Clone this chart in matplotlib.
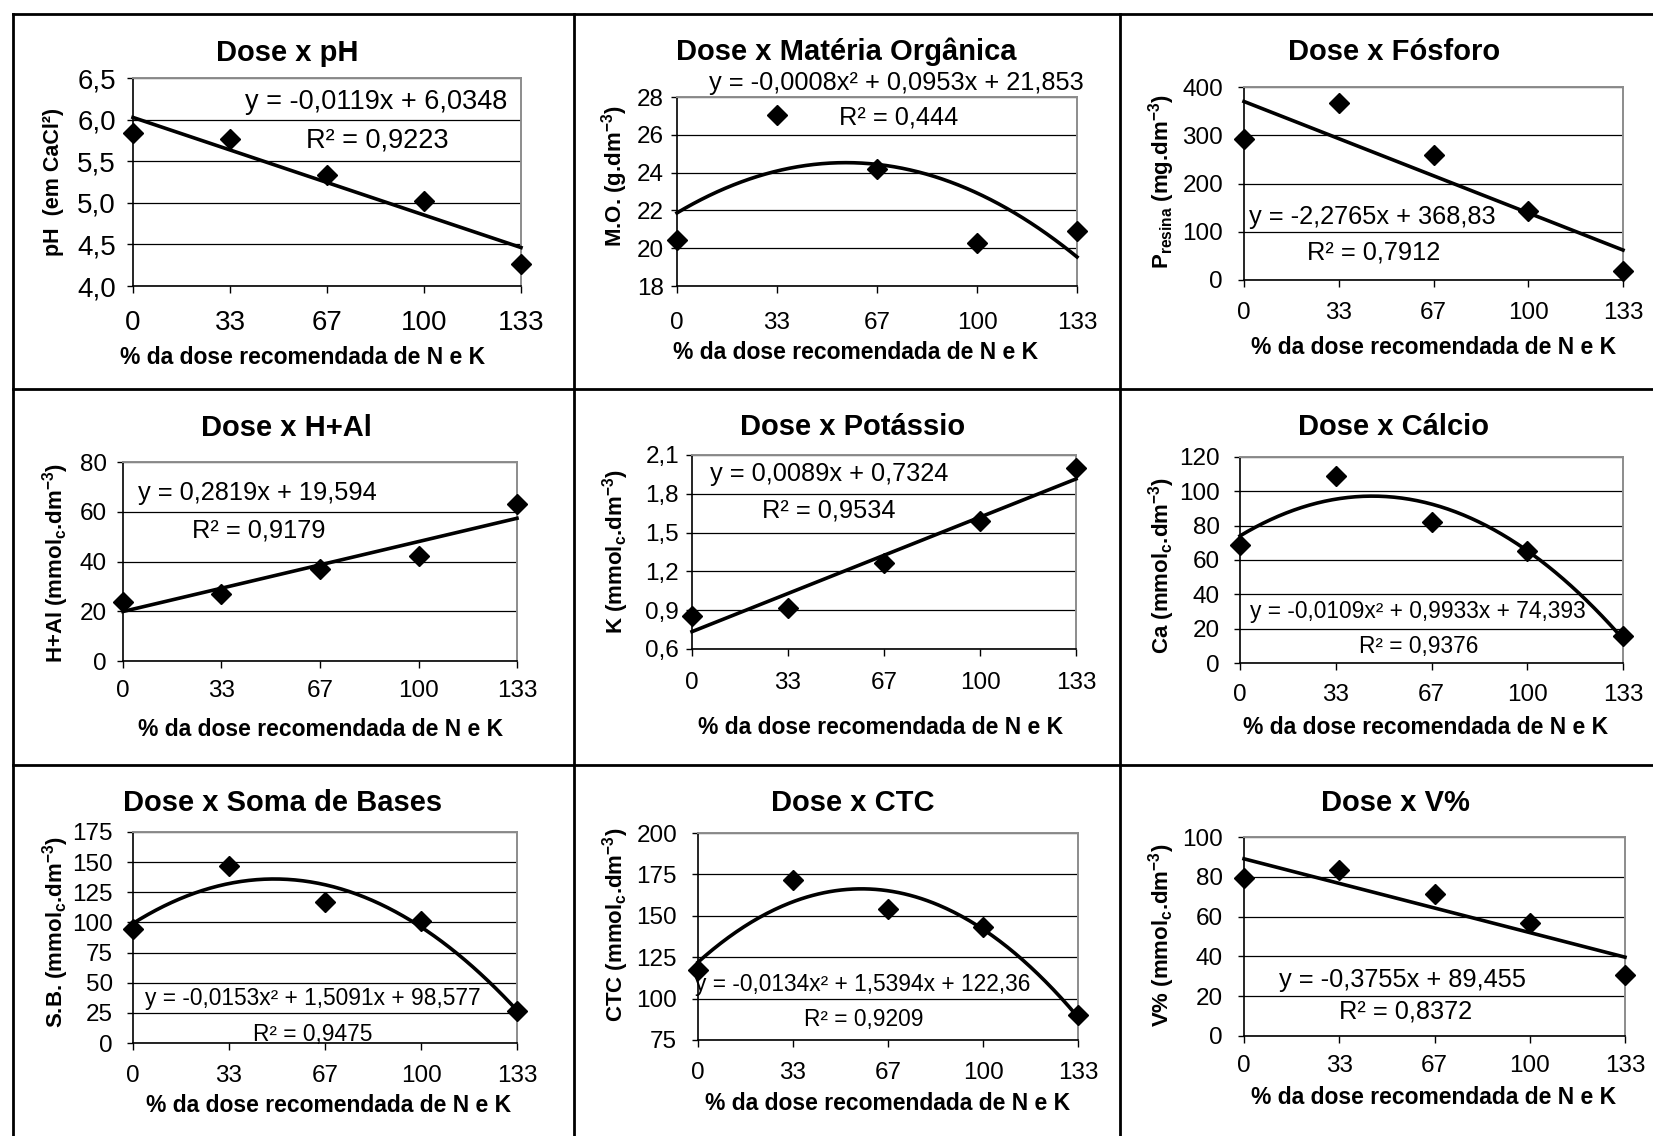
import numpy as np
import matplotlib
matplotlib.use('Agg')
import matplotlib.pyplot as plt
from matplotlib.lines import Line2D

plt.rcParams['font.family'] = ['Liberation Sans', 'DejaVu Sans']
plt.rcParams['mathtext.fontset'] = 'custom'
plt.rcParams['mathtext.rm'] = 'Liberation Sans:bold'
plt.rcParams['mathtext.bf'] = 'Liberation Sans:bold'
plt.rcParams['mathtext.it'] = 'Liberation Sans:bold'
plt.rcParams['mathtext.default'] = 'bf'

# ---------------- data ----------------
dose = [0, 33.3, 66.7, 100, 133.3]
dose_labels = ['0', '33', '67', '100', '133']

ph = [5.84, 5.77, 5.33, 5.02, 4.26]
mo = [20.42, 27.06, 24.18, 20.28, 20.9]
fosforo = [292, 367, 259, 143, 19]
h_al = [23.9, 27.0, 36.9, 42.3, 63.1]
potassio = [0.856, 0.918, 1.264, 1.588, 1.997]
calcio = [68.9, 109.1, 82.3, 65.4, 15.7]
soma_bases = [94.5, 146.4, 116.7, 101.4, 26.9]
ctc = [117.2, 171.6, 154.4, 143.0, 90.0]
v_pct = [79.2, 83.4, 71.4, 57.0, 30.6]

series = [ph, mo, fosforo, h_al, potassio, calcio, soma_bases, ctc, v_pct]
fit_degree = [1, 2, 1, 1, 1, 2, 2, 2, 1]

titles = ['Dose x pH', 'Dose x Matéria Orgânica', 'Dose x Fósforo',
          'Dose x H+Al', 'Dose x Potássio', 'Dose x Cálcio',
          'Dose x Soma de Bases', 'Dose x CTC', 'Dose x V%']
ylabels = ['pH  (em CaCl²)', r'M.O. (g.dm$^{-3}$)', r'P$_{resina}$ (mg.dm$^{-3}$)',
           r'H+Al (mmol$_c$.dm$^{-3}$)', r'K (mmol$_c$.dm$^{-3}$)', r'Ca (mmol$_c$.dm$^{-3}$)',
           r'S.B. (mmol$_c$.dm$^{-3}$)', r'CTC (mmol$_c$.dm$^{-3}$)', r'V% (mmol$_c$.dm$^{-3}$)']
xlabel = '% da dose recomendada de N e K'

ph_ticks = [4.0, 4.5, 5.0, 5.5, 6.0, 6.5]
ph_tick_labels = ['4,0', '4,5', '5,0', '5,5', '6,0', '6,5']
mo_ticks = [18, 20, 22, 24, 26, 28]
p_ticks = [0, 100, 200, 300, 400]
hal_ticks = [0, 20, 40, 60, 80]
k_ticks = [0.6, 0.9, 1.2, 1.5, 1.8, 2.1]
k_tick_labels = ['0,6', '0,9', '1,2', '1,5', '1,8', '2,1']
ca_ticks = [0, 20, 40, 60, 80, 100, 120]
sb_ticks = [0, 25, 50, 75, 100, 125, 150, 175]
ctc_ticks = [75, 100, 125, 150, 175, 200]
v_ticks = [0, 20, 40, 60, 80, 100]

yticks = [ph_ticks, mo_ticks, p_ticks, hal_ticks, k_ticks, ca_ticks, sb_ticks, ctc_ticks, v_ticks]
ytick_labels = [ph_tick_labels, [str(t) for t in mo_ticks], [str(t) for t in p_ticks],
                [str(t) for t in hal_ticks], k_tick_labels, [str(t) for t in ca_ticks],
                [str(t) for t in sb_ticks], [str(t) for t in ctc_ticks], [str(t) for t in v_ticks]]

equations = ['y = -0,0119x + 6,0348', 'y = -0,0008x² + 0,0953x + 21,853', 'y = -2,2765x + 368,83',
             'y = 0,2819x + 19,594', 'y = 0,0089x + 0,7324', 'y = -0,0109x² + 0,9933x + 74,393',
             'y = -0,0153x² + 1,5091x + 98,577', 'y = -0,0134x² + 1,5394x + 122,36',
             'y = -0,3755x + 89,455']
r2_texts = ['R² = 0,9223', 'R² = 0,444', 'R² = 0,7912', 'R² = 0,9179', 'R² = 0,9534',
            'R² = 0,9376', 'R² = 0,9475', 'R² = 0,9209', 'R² = 0,8372']

# ---------------- layout (pixels in a 1653x1136 canvas) ----------------
W, H = 1653, 1136
layout = [
    dict(ax=(133, 521, 78, 286), title=(287, 53), xl=(303, 357), yl=(54, 182), eq=(0.626, 0.885), r2=(0.630, 0.70), tfs=20, efs=19.5, xg=39, yg=17, ylfs=15.5),
    dict(ax=(677, 1077, 97, 286), title=(846, 52), xl=(856, 353), yl=(615, 176), eq=(0.548, 1.074), r2=(0.553, 0.889), tfs=17.5, efs=18.3, xg=39, yg=13, ylfs=16),
    dict(ax=(1244, 1623, 87, 280), title=(1394, 52), xl=(1434, 348), yl=(1162, 182), eq=(0.338, 0.326), r2=(0.341, 0.145), tfs=17.5, efs=18.3, xg=35, yg=21, ylfs=16),
    dict(ax=(123, 517, 462, 661), title=(286, 428), xl=(321, 730), yl=(56, 563), eq=(0.34, 0.844), r2=(0.345, 0.658), tfs=17.5, efs=18.3, xg=32, yg=16, ylfs=16),
    dict(ax=(692, 1076, 455, 649), title=(853, 427), xl=(881, 728), yl=(616, 552), eq=(0.357, 0.902), r2=(0.357, 0.716), tfs=17.5, efs=18.3, xg=36, yg=13, ylfs=16),
    dict(ax=(1240, 1623, 457, 663), title=(1393, 427), xl=(1426, 728), yl=(1162, 565), eq=(0.465, 0.248), r2=(0.467, 0.078), tfs=17.5, efs=16.4, xg=34, yg=20, ylfs=16),
    dict(ax=(133, 517, 832, 1043), title=(283, 803), xl=(329, 1105), yl=(56, 932), eq=(0.469, 0.213), r2=(0.469, 0.038), tfs=17.5, efs=16.4, xg=35, yg=20, ylfs=16),
    dict(ax=(698, 1078, 833, 1040), title=(853, 803), xl=(888, 1103), yl=(616, 925), eq=(0.434, 0.266), r2=(0.437, 0.101), tfs=17.5, efs=16.4, xg=35, yg=21, ylfs=16),
    dict(ax=(1244, 1625, 837, 1036), title=(1395, 803), xl=(1434, 1098), yl=(1162, 935), eq=(0.417, 0.281), r2=(0.423, 0.121), tfs=17.5, efs=18.3, xg=32, yg=21, ylfs=16),
]

PX = 72 / 100.0  # points per pixel at dpi 100

fig = plt.figure(figsize=(W / 100, H / 100), dpi=100)
fig.patch.set_facecolor('white')

for i, L in enumerate(layout):
    l, r, t, b = L['ax']
    ax = fig.add_axes([l / W, 1 - b / H, (r - l) / W, (b - t) / H])
    y = series[i]
    xs = np.linspace(dose[0], dose[-1], 200)
    coef = np.polyfit(dose, y, fit_degree[i])
    ax.plot(xs, np.polyval(coef, xs), color='black', lw=2.6, zorder=3, clip_on=False)
    ax.plot(dose, y, linestyle='none', marker='D', color='black', ms=10, zorder=4, clip_on=False)

    ax.set_xlim(dose[0], dose[-1])
    ax.set_ylim(yticks[i][0], yticks[i][-1])
    ax.set_xticks(dose)
    ax.set_xticklabels(dose_labels)
    ax.set_yticks(yticks[i])
    ax.set_yticklabels(ytick_labels[i])
    ax.grid(axis='y', color='black', lw=0.9)
    ax.set_axisbelow(True)
    for s in ('top', 'right'):
        ax.spines[s].set_color('#8c8c8c')
        ax.spines[s].set_linewidth(1.4)
    for s in ('left', 'bottom'):
        ax.spines[s].set_color('black')
        ax.spines[s].set_linewidth(1.2)
    tfs = L['tfs']
    em = tfs / PX
    xpad = max(L['xg'] - 0.547 * em - 7, 2) * PX
    ypad = max(L['yg'] - 6, 2) * PX
    ax.tick_params(axis='x', direction='out', length=7 * PX, width=1, pad=xpad, labelsize=tfs)
    ax.tick_params(axis='y', direction='out', length=6 * PX, width=1, pad=ypad, labelsize=tfs)

    ax.text(L['eq'][0], L['eq'][1], equations[i], transform=ax.transAxes, ha='center', va='center',
            fontsize=L['efs'], clip_on=False, zorder=5)
    ax.text(L['r2'][0], L['r2'][1], r2_texts[i], transform=ax.transAxes, ha='center', va='center',
            fontsize=L['efs'], clip_on=False, zorder=5)

    fig.text(L['title'][0] / W, 1 - L['title'][1] / H, titles[i], ha='center', va='center',
             fontsize=21, fontweight='bold')
    fig.text(L['xl'][0] / W, 1 - L['xl'][1] / H, xlabel, ha='center', va='center',
             fontsize=16.5, fontweight='bold')
    fig.text(L['yl'][0] / W, 1 - L['yl'][1] / H, ylabels[i], ha='center', va='center',
             rotation=90, fontsize=L['ylfs'], fontweight='bold')

# table cell borders
bw = 2.0
for xv in (13, 574, 1120):
    fig.add_artist(Line2D([xv / W, xv / W], [0, 1 - 14 / H], color='black', lw=bw))
for yv in (14, 389, 765):
    fig.add_artist(Line2D([13 / W, 1], [1 - yv / H, 1 - yv / H], color='black', lw=bw))

fig.savefig('out.png', dpi=100, facecolor='white')
